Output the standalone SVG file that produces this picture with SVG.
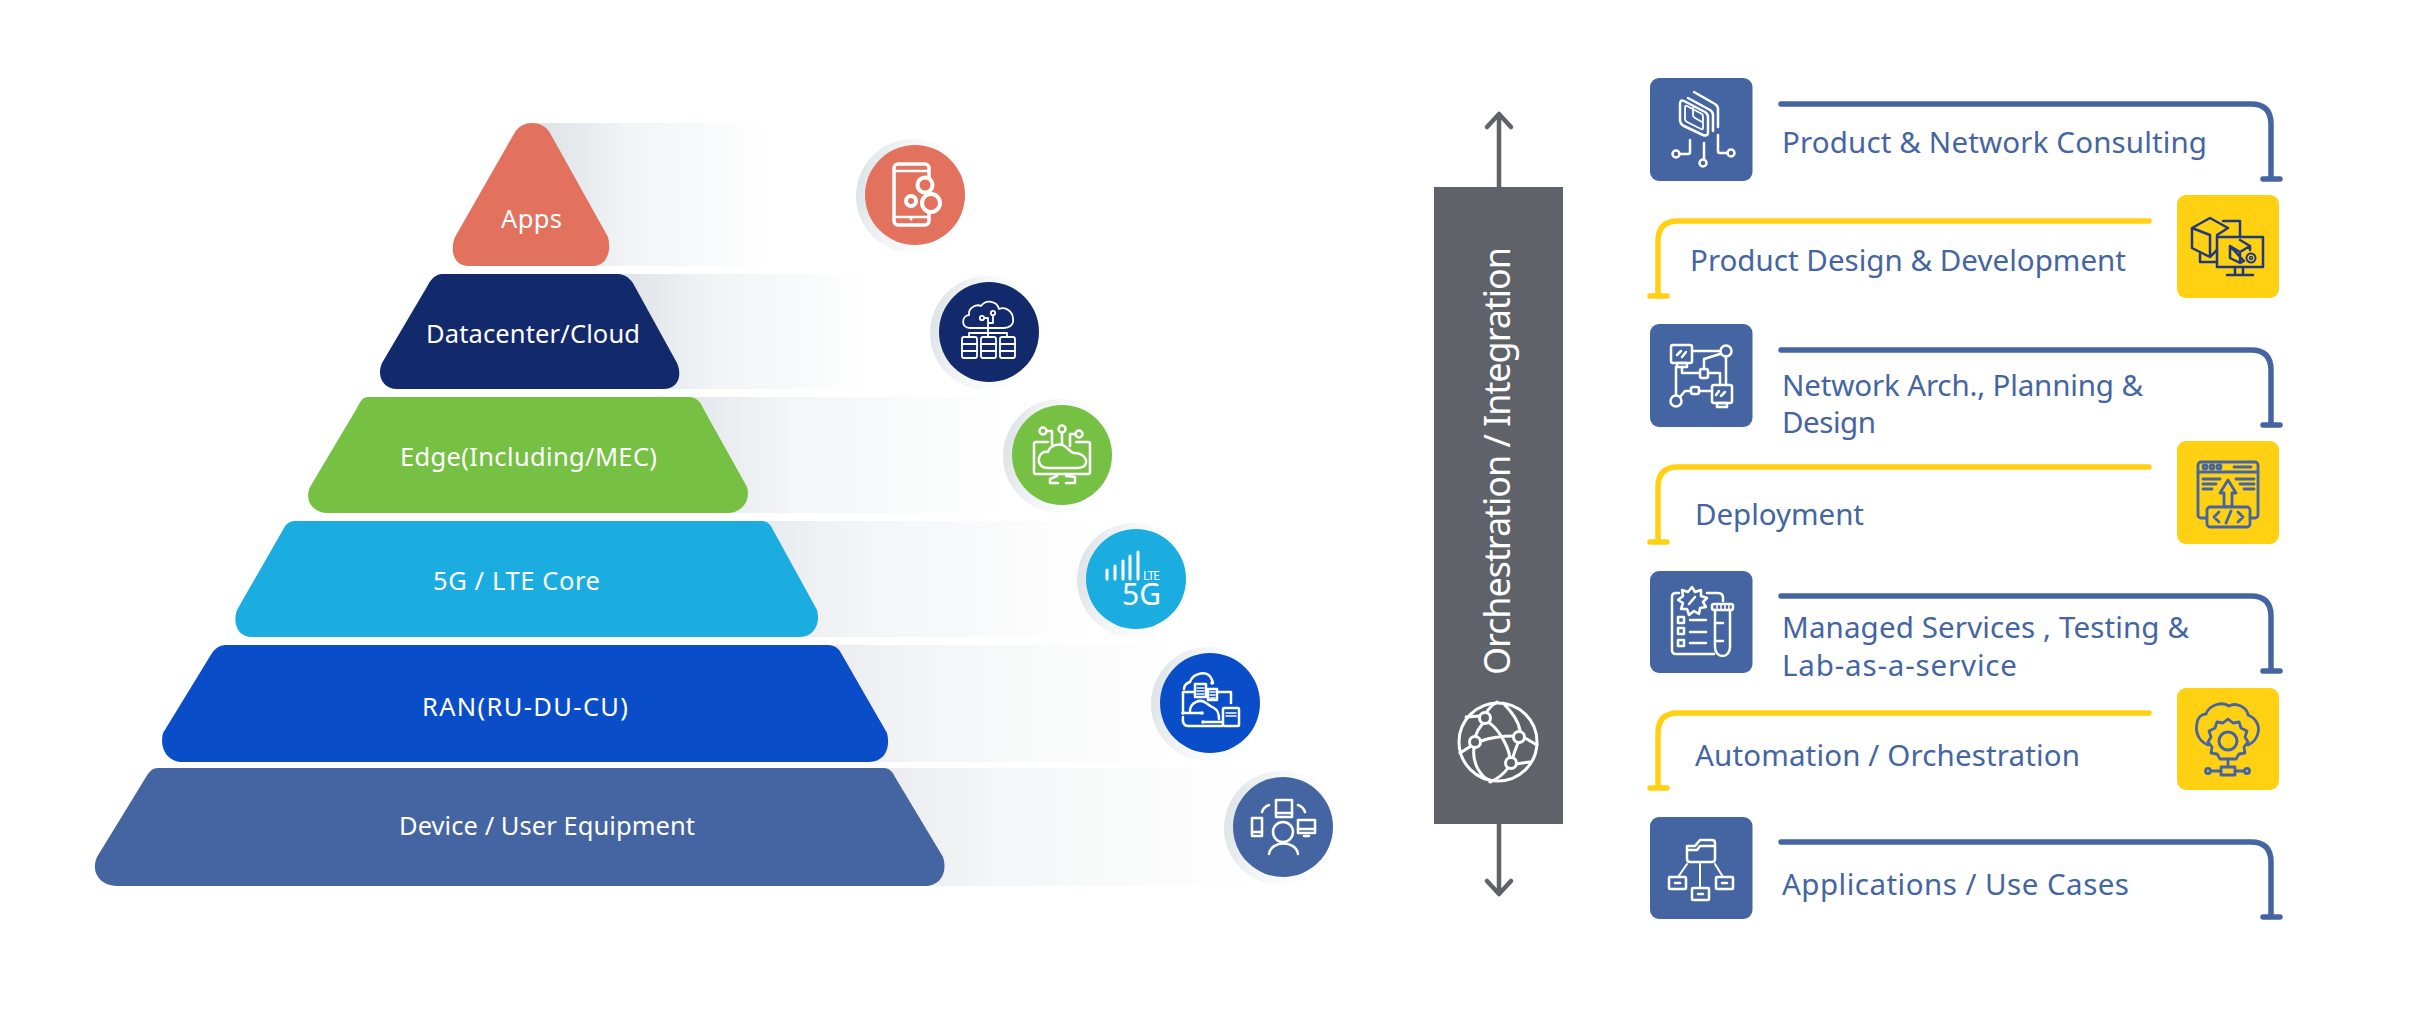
<svg xmlns="http://www.w3.org/2000/svg" width="2423" height="1012" viewBox="0 0 2423 1012">
<defs>
<linearGradient id="g0" gradientUnits="userSpaceOnUse" x1="545" y1="0" x2="770" y2="0"><stop offset="0" stop-color="#dfe4e8"/><stop offset=".35" stop-color="#f1f3f5"/><stop offset="1" stop-color="#fff"/></linearGradient>
<linearGradient id="g1" gradientUnits="userSpaceOnUse" x1="625" y1="0" x2="870" y2="0"><stop offset="0" stop-color="#dfe4e8"/><stop offset=".35" stop-color="#f1f3f5"/><stop offset="1" stop-color="#fff"/></linearGradient>
<linearGradient id="g2" gradientUnits="userSpaceOnUse" x1="695" y1="0" x2="1010" y2="0"><stop offset="0" stop-color="#e6e9ec"/><stop offset=".3" stop-color="#f3f5f6"/><stop offset="1" stop-color="#fff"/></linearGradient>
<linearGradient id="g3" gradientUnits="userSpaceOnUse" x1="770" y1="0" x2="1100" y2="0"><stop offset="0" stop-color="#e9ecef"/><stop offset=".3" stop-color="#f4f5f7"/><stop offset="1" stop-color="#fff"/></linearGradient>
<linearGradient id="g4" gradientUnits="userSpaceOnUse" x1="840" y1="0" x2="1180" y2="0"><stop offset="0" stop-color="#ebedf0"/><stop offset=".3" stop-color="#f5f6f7"/><stop offset="1" stop-color="#fff"/></linearGradient>
<linearGradient id="g5" gradientUnits="userSpaceOnUse" x1="895" y1="0" x2="1260" y2="0"><stop offset="0" stop-color="#ebedf0"/><stop offset=".3" stop-color="#f5f6f7"/><stop offset="1" stop-color="#fff"/></linearGradient>
<linearGradient id="sh" x1="0" y1="0.4" x2="1" y2="0.6"><stop offset="0" stop-color="#dde3e7"/><stop offset=".25" stop-color="#eef1f3"/><stop offset=".6" stop-color="#fafbfb"/><stop offset="1" stop-color="#fff"/></linearGradient>
</defs>
<style>
text{font-family:"Noto Sans","Open Sans",sans-serif}
.pl{fill:#fff;font-size:25.500px}
.lb{fill:#4465a1;font-size:29.500px}
.w{fill:none;stroke:#fff;stroke-width:2.500;stroke-linecap:round;stroke-linejoin:round}
.w3{fill:none;stroke:#fff;stroke-width:3.500;stroke-linecap:round;stroke-linejoin:round}
.d{fill:none;stroke:#1f3a78;stroke-width:2.500;stroke-linecap:round;stroke-linejoin:round}
.b{fill:none;stroke:#4465a1;stroke-width:2.800;stroke-linecap:round;stroke-linejoin:round}
.lnb{fill:none;stroke:#4465a1;stroke-width:5.500;stroke-linecap:round;stroke-linejoin:round}
.lny{fill:none;stroke:#ffd112;stroke-width:5.500;stroke-linecap:round;stroke-linejoin:round}
.arr{fill:none;stroke:#5f6369;stroke-width:4.500;stroke-linecap:round;stroke-linejoin:round}
.bx{fill:#4465a1}.yx{fill:#ffd112}
</style>

<g id="bands">
<rect x="530" y="123" width="240" height="143" fill="url(#g0)"/>
<rect x="600" y="274" width="270" height="115" fill="url(#g1)"/>
<rect x="680" y="397" width="330" height="116" fill="url(#g2)"/>
<rect x="760" y="521" width="340" height="116" fill="url(#g3)"/>
<rect x="830" y="645" width="350" height="117" fill="url(#g4)"/>
<rect x="880" y="768" width="380" height="118" fill="url(#g5)"/>
</g>

<g id="layer-apps">
<path d="M515 132C519 126 525 123 532 123C539 123 546 126 550 133L608 237C612 252 606 266 593 266H468C455 266 449 252 455 237Z" fill="#e2725e"/>
<text class="pl" x="501" y="228" textLength="61">Apps</text>
</g>
<g id="layer-datacenter">
<path d="M442 274H618C625 274 631 279 634 285L677 363C683 377 677 389 663 389H397C384 389 376 377 382 363L428 285C431 279 436 274 442 274Z" fill="#12296b"/>
<text class="pl" x="426" y="343" textLength="214">Datacenter/Cloud</text>
</g>
<g id="layer-edge">
<path d="M368 397H689C696 397 701 402 703 408L747 487C751 501 742 513 727 513H328C313 513 304 501 310 487L357 408C360 402 362 397 368 397Z" fill="#76c044"/>
<text class="pl" x="400" y="466" textLength="257">Edge(Including/MEC)</text>
</g>
<g id="layer-core">
<path d="M295 521H761C767 521 770 524 772 528L817 610C821 625 813 637 800 637H252C239 637 232 625 237 610L284 528C286 524 290 521 295 521Z" fill="#1cade0"/>
<text class="pl" x="433" y="590" textLength="167">5G / LTE Core</text>
</g>
<g id="layer-ran">
<path d="M226 645H828C835 645 839 649 841 653L887 733C891 749 884 762 869 762H183C168 762 159 749 163 733L212 653C215 649 219 645 226 645Z" fill="#094dc9"/>
<text class="pl" x="422" y="716" textLength="206">RAN(RU-DU-CU)</text>
</g>
<g id="layer-device">
<path d="M158 768H884C889 768 893 772 895 777L943 857C948 873 940 886 925 886H117C101 886 90 873 97 857L146 777C149 772 152 768 158 768Z" fill="#4465a1"/>
<text class="pl" x="399" y="835" textLength="296">Device / User Equipment</text>
</g>

<g id="icon-apps">
<circle cx="913" cy="196" r="57" fill="url(#sh)"/>
<circle cx="915" cy="195" r="50" fill="#e2725e"/>
<rect class="w3" x="894" y="164" width="35" height="61" rx="4"/>
<path class="w" d="M894 171H929M894 217H929"/>
<circle cx="911" cy="219" r="1.500" fill="#fff"/>
<circle class="w3" cx="925" cy="185" r="7.500" style="fill:#e2725e;stroke-width:4"/>
<circle class="w3" cx="931" cy="203" r="9" style="fill:#e2725e;stroke-width:4"/>
<circle class="w3" cx="911" cy="201" r="5" style="stroke-width:4"/>
</g>
<g id="icon-datacenter">
<circle cx="987" cy="333" r="57" fill="url(#sh)"/>
<circle cx="989" cy="332" r="50" fill="#12296b"/>
<path class="w" style="stroke-width:1.800" d="M970 328C961 328 961 316 969 315C968 307 977 304 981 306C986 299 997 301 999 309C1006 306 1013 312 1013 319C1014 325 1009 328 1004 328Z"/>
<path class="w" style="stroke-width:1.800" d="M988 337V318M988 323H993V316M985 318H988M969 337V333H1007V337"/>
<circle class="w" style="stroke-width:1.800" cx="982" cy="318" r="2.200"/><circle class="w" style="stroke-width:1.800" cx="993" cy="313" r="2.200"/>
<path class="w" style="stroke-width:1.800" d="M962 344H977M962 351H977M981 344H996M981 351H996M1000 344H1015M1000 351H1015"/>
<rect class="w" style="stroke-width:1.800" x="962" y="337" width="15" height="21" rx="2"/>
<rect class="w" style="stroke-width:1.800" x="981" y="337" width="15" height="21" rx="2"/>
<rect class="w" style="stroke-width:1.800" x="1000" y="337" width="15" height="21" rx="2"/>
</g>
<g id="icon-edge">
<circle cx="1060" cy="456" r="57" fill="url(#sh)"/>
<circle cx="1062" cy="455" r="50" fill="#76c044"/>
<path class="w" d="M1048 442H1036Q1034 442 1034 444V472Q1034 474 1036 474H1088Q1090 474 1090 472V444Q1090 442 1088 442H1076"/>
<path class="w" d="M1048 468C1040 468 1038 462 1039 458C1040 453 1044 451 1048 452C1050 445 1060 442 1066 447C1070 451 1072 453 1074 453C1082 453 1087 458 1086 463C1085 467 1081 468 1077 468Z"/>
<path class="w" d="M1047 431H1052V444M1062 433V444M1076 434H1070V446"/>
<circle class="w" cx="1043" cy="431" r="3.500"/><circle class="w" cx="1062" cy="429" r="3.500"/><circle class="w" cx="1079" cy="434" r="3.500"/>
<path class="w" d="M1057 476L1050 479V483H1058M1066 476L1075 477V483H1066"/>
</g>
<g id="icon-core">
<circle cx="1134" cy="580" r="57" fill="url(#sh)"/>
<circle cx="1136" cy="579" r="50" fill="#1cade0"/>
<path class="w3" style="stroke-width:3" d="M1107 579V570M1115 579V566M1123 579V561M1130 579V556M1138 579V552"/>
<text x="1143" y="580" fill="#fff" font-size="12" textLength="17">LTE</text>
<text x="1122" y="605" fill="#fff" font-size="30" textLength="39">5G</text>
</g>
<g id="icon-ran">
<circle cx="1208" cy="704" r="57" fill="url(#sh)"/>
<circle cx="1210" cy="703" r="50" fill="#094dc9"/>
<path class="w" d="M1184 689C1184 685 1187 683 1190 682C1193 673 1208 669 1212 680L1213 683"/>
<circle cx="1212" cy="683" r="1.800" fill="#fff"/>
<path class="w" d="M1195 692H1183V713M1218 692H1231V703"/>
<path class="w" d="M1190 711C1190 703 1200 698 1206 703C1210 706 1212 707 1214 708C1218 710 1219 714 1219 719"/>
<path class="w" d="M1183 713H1202M1203 722H1228"/>
<circle cx="1183" cy="713" r="1.800" fill="#fff"/><circle cx="1202" cy="713" r="1.800" fill="#fff"/><circle cx="1203" cy="722" r="1.800" fill="#fff"/><circle cx="1228" cy="722" r="1.800" fill="#fff"/>
<path class="w" d="M1183 717C1182 722 1184 726 1188 726H1222"/>
<rect class="w" x="1195" y="684" width="11" height="13" style="fill:#094dc9"/>
<rect class="w" x="1208" y="689" width="9" height="11" style="fill:#094dc9"/>
<path class="w" style="stroke-width:1.500" d="M1197 688H1204M1197 691H1204M1197 694H1204M1210 692H1215M1210 695H1215M1210 698H1215"/>
<rect class="w" x="1223" y="708" width="16" height="18" rx="1" style="fill:#094dc9"/>
<path class="w" style="stroke-width:1.500" d="M1226 713H1236M1226 716H1236"/>
</g>
<g id="icon-device">
<circle cx="1281" cy="828" r="57" fill="url(#sh)"/>
<circle cx="1283" cy="827" r="50" fill="#4465a1"/>
<rect class="w" x="1276" y="800" width="16" height="17"/>
<path class="w" d="M1276 813H1292"/>
<rect class="w" x="1252" y="818" width="10" height="18"/>
<path class="w" d="M1252 832H1262"/>
<rect class="w" x="1298" y="820" width="17" height="13"/>
<path class="w" d="M1298 829H1315M1304 836H1309"/>
<circle class="w" cx="1283" cy="832" r="10"/>
<path class="w" d="M1269 854C1271 840 1296 840 1298 854M1262 812C1263 809 1266 806 1269 805M1298 805C1301 806 1304 809 1305 812"/>
</g>

<g id="connectors">
<path class="arr" d="M1499 187V115M1487 127L1499 114L1511 127"/>
<path class="arr" d="M1499 824V893M1487 881L1499 894L1511 881"/>
<path class="lnb" d="M1781 104H2251Q2271 104 2271 124V179M2263 179H2280"/>
<path class="lny" d="M2149 221H1678Q1658 221 1658 241V296M1650 296H1667"/>
<path class="lnb" d="M1781 350H2251Q2271 350 2271 370V425M2263 425H2280"/>
<path class="lny" d="M2149 467H1678Q1658 467 1658 487V542M1650 542H1667"/>
<path class="lnb" d="M1781 596H2251Q2271 596 2271 616V671M2263 671H2280"/>
<path class="lny" d="M2149 713H1678Q1658 713 1658 733V788M1650 788H1667"/>
<path class="lnb" d="M1781 842H2251Q2271 842 2271 862V917M2263 917H2280"/>
</g>

<g id="orchestration">
<rect x="1434" y="187" width="129" height="637" fill="#5f6369"/>
<text transform="translate(1510 675) rotate(-90)" fill="#fff" font-size="36" textLength="428">Orchestration / Integration</text>
<g style="fill:none;stroke:#fff;stroke-width:3;stroke-linecap:round;stroke-linejoin:round">
<circle cx="1498" cy="742" r="39"/>
<path d="M1497 702C1490 706 1487 711 1485 715M1483 723C1478 729 1476 734 1475 737M1474 748C1472 762 1480 778 1492 781M1481 741C1492 737 1503 736 1514 736M1488 722C1498 728 1508 745 1510 758M1503 703C1512 712 1519 722 1520 731M1518 743C1516 748 1514 753 1513 757M1508 768C1503 775 1497 779 1490 782M1525 738L1537 745M1471 746L1460 753M1466 717L1480 716M1516 764L1530 762"/>
</g>
<g fill="#5f6369" stroke="#fff" stroke-width="3">
<circle cx="1485" cy="718" r="5.500"/><circle cx="1519" cy="737" r="5.500"/><circle cx="1475" cy="742" r="5.500"/><circle cx="1511" cy="763" r="5.500"/>
</g>
</g>

<g id="step-consulting">
<rect class="bx" x="1650" y="78" width="102.500" height="103" rx="9"/>
<path class="w" d="M1684 101L1705 112Q1708 114 1708 117V132Q1708 137 1703 135L1684 126Q1680 124 1680 120V104Q1680 99 1684 101Z"/>
<path class="w" d="M1687 106L1702 114Q1703 115 1703 117V128Q1703 130 1701 129L1687 122Q1685 121 1685 119V108Q1685 105 1687 106Z" style="stroke-width:1.800"/>
<path class="w" d="M1693 108V115Q1693 117 1695 118L1702 122" style="stroke-width:1.800"/>
<path class="w" d="M1688 98L1710 110Q1713 112 1713 115V131M1694 92L1715 104Q1718 106 1718 109V127"/>
<path class="w" d="M1704 143V159M1690 140V152Q1690 154 1688 154H1680M1718 135V151Q1718 153 1720 153H1727"/>
<circle class="w" cx="1703" cy="163" r="3.500"/><circle class="w" cx="1676" cy="154" r="3.500"/><circle class="w" cx="1731" cy="153" r="3.500"/>
<text class="lb" x="1782" y="153" textLength="425">Product &amp; Network Consulting</text>
</g>
<g id="step-design">
<rect class="yx" x="2177" y="195" width="102" height="103" rx="9"/>
<path class="d" d="M2217 250L2210 257L2192 248V228L2210 218L2228 228L2217 235M2192 228L2210 235V257"/>
<path class="d" d="M2223 221H2240V237M2200 254V262H2217"/>
<rect class="d" x="2217" y="237" width="46" height="30"/>
<path class="d" d="M2235 267V274M2243 267V274M2227 275H2253"/>
<path class="d" d="M2240 240L2250 246V250M2244 261L2240 263L2230 258V246ZM2230 246L2240 252L2250 246M2240 252V263"/>
<circle class="d" cx="2251" cy="258" r="4.500" style="stroke-dasharray:2 1;stroke-width:2"/>
<circle class="d" cx="2251" cy="258" r="1.500" style="stroke-width:1.500"/>
<text class="lb" x="1690" y="271" textLength="436">Product Design &amp; Development</text>
</g>
<g id="step-architecture">
<rect class="bx" x="1650" y="324" width="102.500" height="103" rx="9"/>
<rect class="w" x="1671" y="345" width="21" height="18" rx="2"/>
<rect class="w" x="1677" y="363" width="10" height="4"/>
<path class="w" d="M1677 355L1681 351M1682 357L1686 352"/>
<circle class="w" cx="1726" cy="351" r="5.500"/>
<rect class="w" x="1700" y="369" width="8" height="9" rx="2"/>
<rect class="w" x="1712" y="385" width="20" height="18" rx="2"/>
<rect class="w" x="1717" y="403" width="10" height="4"/>
<path class="w" d="M1716 395L1719 391M1721 396L1725 392"/>
<rect class="w" x="1691" y="387" width="8" height="7" rx="2"/>
<circle class="w" cx="1676" cy="401" r="5.500"/>
<path class="w" d="M1692 351H1720M1682 367V373H1700M1704 369V359L1720 354M1708 373H1720V385M1726 356V385M1676 367V395M1680 397L1685 391H1691M1699 391H1712"/>
<text class="lb" x="1782" y="396" textLength="361">Network Arch., Planning &amp;</text>
<text class="lb" x="1782" y="433" textLength="94">Design</text>
</g>
<g id="step-deployment">
<rect class="yx" x="2177" y="441" width="102" height="103" rx="9"/>
<rect class="b" x="2198" y="462" width="60" height="56" rx="3"/>
<path class="b" d="M2198 472H2258M2234 467H2251M2203 479H2220M2203 484H2216M2203 489H2212M2236 479H2254M2240 484H2254M2244 489H2254"/>
<circle class="b" cx="2205" cy="467" r="2"/><circle class="b" cx="2212" cy="467" r="2"/><circle class="b" cx="2219" cy="467" r="2"/>
<path class="b" style="fill:#ffd112" d="M2228 480L2236 493H2232V507H2224V493H2220Z"/>
<rect class="b" x="2207" y="507" width="43" height="20" rx="3" style="fill:#ffd112"/>
<path class="b" d="M2219 512L2214 517L2219 522M2238 512L2243 517L2238 522M2231 511L2226 523"/>
<text class="lb" x="1695" y="525" textLength="169">Deployment</text>
</g>
<g id="step-managed">
<rect class="bx" x="1650" y="571" width="102.500" height="102" rx="9"/>
<path class="w" d="M1679 593H1676Q1672 593 1672 597V650Q1672 654 1676 654H1714M1707 593H1718Q1723 593 1723 598V601"/>
<path class="w" d="M1692 587L1695 592L1701 590L1701 596L1707 598L1703 602L1706 607L1700 608L1699 614L1694 611L1689 615L1687 609L1681 609L1683 603L1678 600L1683 596L1682 590L1688 592Z"/>
<path class="w" d="M1689 604L1695 597"/>
<rect class="w" x="1678" y="617" width="6" height="6"/><rect class="w" x="1678" y="628" width="6" height="6"/><rect class="w" x="1678" y="640" width="6" height="6"/>
<path class="w" d="M1690 620H1706M1690 632H1706M1690 643H1706"/>
<path class="w" d="M1715 610V647C1715 659 1730 659 1730 647V610"/>
<rect class="w" x="1712" y="604" width="21" height="6" rx="2"/>
<path class="w" style="stroke-width:1.500" d="M1717 604V610M1721 604V610M1725 604V610M1729 604V610"/>
<path class="w" d="M1715 623H1723M1715 641H1723"/>
<text class="lb" x="1782" y="638" textLength="407">Managed Services , Testing &amp;</text>
<text class="lb" x="1782" y="676" textLength="235">Lab-as-a-service</text>
</g>
<g id="step-automation">
<rect class="yx" x="2177" y="688" width="102" height="102" rx="9"/>
<path class="b" d="M2208 745C2198 741 2195 731 2197 723C2198 717 2202 714 2206 714C2209 705 2222 701 2229 706C2236 702 2247 707 2248 715C2256 718 2260 726 2258 733C2257 738 2253 743 2248 745"/>
<circle class="b" cx="2228" cy="741" r="9" style="stroke-width:3"/>
<path class="b" d="M2228 719L2233 723L2239 722L2241 728L2247 731L2245 737L2248 742L2244 747L2245 753L2239 754L2236 759H2220L2217 754L2211 753L2212 747L2208 742L2211 737L2209 731L2215 728L2217 722L2223 723Z"/>
<path class="b" d="M2228 759V767M2212 771H2221M2235 771H2244"/>
<rect class="b" x="2221" y="767" width="14" height="8"/>
<circle class="b" cx="2208" cy="771" r="2.500"/><circle class="b" cx="2247" cy="771" r="2.500"/>
<text class="lb" x="1695" y="766" textLength="385">Automation / Orchestration</text>
</g>
<g id="step-applications">
<rect class="bx" x="1650" y="817" width="102.500" height="102" rx="9"/>
<path class="w" d="M1687 846V859Q1687 862 1690 862H1712Q1715 862 1715 859V843Q1715 840 1712 840H1700L1695 846ZM1687 850H1697L1700 846H1715"/>
<path class="w" style="stroke-width:2" d="M1687 864L1678 877M1700 864V887M1715 864L1723 877"/>
<rect class="w" x="1669" y="877" width="17" height="12" rx="1"/><rect class="w" x="1692" y="888" width="17" height="12" rx="1"/><rect class="w" x="1716" y="877" width="17" height="12" rx="1"/>
<path class="w" d="M1675 883H1680M1698 894H1703M1722 883H1727"/>
<text class="lb" x="1782" y="895" textLength="347">Applications / Use Cases</text>
</g>
</svg>
